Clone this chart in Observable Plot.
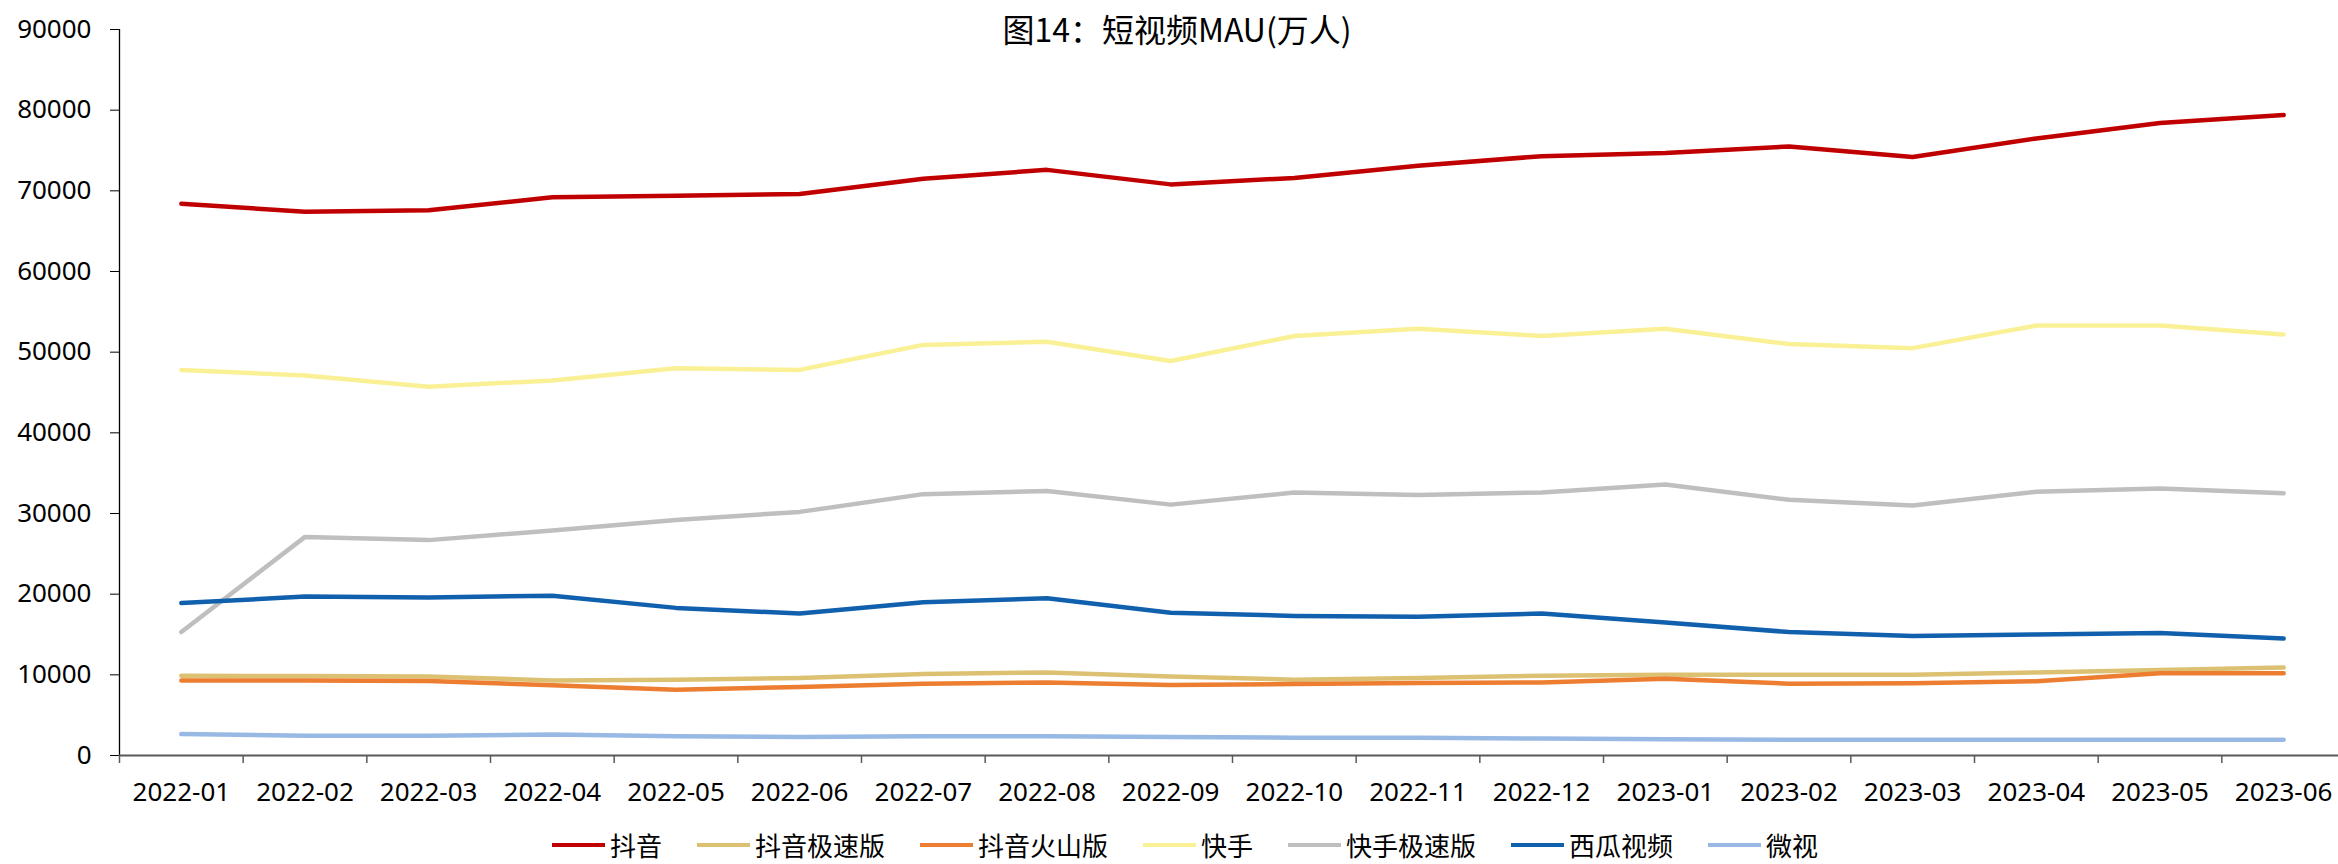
<!DOCTYPE html>
<html><head><meta charset="utf-8">
<script src="https://cdn.jsdelivr.net/npm/d3@7"></script>
<script src="https://cdn.jsdelivr.net/npm/@observablehq/plot@0.6"></script>
<style>
body{margin:0;background:#fff;}
#wrap{position:relative;width:2338px;height:864px;overflow:hidden;}
#title{position:absolute;top:12px;left:0;width:2338px;text-align:center;font-size:32px;line-height:32px;padding-left:16px;box-sizing:border-box;font-family:"Noto Sans CJK SC",sans-serif;color:#000;}
#legend{position:absolute;top:831px;left:552px;height:28px;display:flex;align-items:center;font-size:26px;line-height:28px;font-family:"Noto Sans CJK SC",sans-serif;color:#000;}
.item{display:flex;align-items:center;margin-right:35px;}
.sw{display:inline-block;width:53px;height:4px;margin-right:5px;}
</style></head>
<body>
<div id="wrap"><div id="chart"></div><div id="title">图14：短视频MAU(万人)</div><div id="legend"></div></div>
<script>
const months = ["2022-01","2022-02","2022-03","2022-04","2022-05","2022-06","2022-07","2022-08","2022-09","2022-10","2022-11","2022-12","2023-01","2023-02","2023-03","2023-04","2023-05","2023-06"];
const yTicks = [0,10000,20000,30000,40000,50000,60000,70000,80000,90000];

const douyin      = [68400,67400,67600,69200,69400,69600,71500,72600,70800,71600,73100,74300,74700,75500,74200,76500,78400,79400];
const douyinJisu  = [9900,9850,9800,9300,9400,9600,10100,10300,9800,9400,9600,9900,10000,10000,10000,10300,10600,10900];
const douyinHuoshan = [9300,9300,9250,8700,8150,8500,8900,9050,8750,8850,9000,9050,9500,8900,8950,9200,10200,10200];
const kuaishou    = [47800,47100,45700,46500,48000,47800,50900,51300,48900,52000,52900,52000,52900,51000,50500,53300,53300,52200];
const kuaishouJisu = [15300,27100,26700,27900,29200,30200,32400,32800,31100,32600,32300,32600,33600,31700,31000,32700,33100,32500];
const xigua       = [18900,19700,19600,19800,18300,17600,19000,19500,17700,17300,17200,17600,16500,15300,14800,15000,15200,14500];
const weishi      = [2650,2450,2450,2600,2400,2300,2400,2400,2300,2200,2200,2100,2000,1950,1950,1950,1950,1950];

const seriesNames  = ["抖音","抖音极速版","抖音火山版","快手","快手极速版","西瓜视频","微视"];
const seriesValues = [douyin, douyinJisu, douyinHuoshan, kuaishou, kuaishouJisu, xigua, weishi];
const seriesColors = ["#C00000","#DDC173","#ED7D31","#FAF096","#BFBFBF","#1160AE","#97B9E4"];

const rows = [];
seriesNames.forEach((s, k) => seriesValues[k].forEach((v, i) => rows.push({series: s, idx: i + 0.5, month: months[i], value: v})));

const font = '"Noto Sans","Noto Sans CJK SC",sans-serif';
const chart = Plot.plot({
  width: 2338, height: 830,
  marginLeft: 119, marginRight: 0, marginTop: 29, marginBottom: 75,
  x: {domain: [0, months.length], range: [119, 2345], label: null},
  y: {domain: [0, 90000], label: null},
  color: {domain: seriesNames, range: seriesColors},
  style: {fontFamily: font, fontSize: "26px", color: "#000", background: "#fff", overflow: "visible"},
  marks: [
    Plot.axisY({ticks: yTicks, tickSize: 9, tickPadding: 19, tickFormat: d => String(d), stroke: "#000", label: null}),
    Plot.ruleX([0], {stroke: "#000", strokeWidth: 1.3}),
    Plot.axisX({ticks: d3.range(months.length + 1), tickSize: 8, tickFormat: () => "", stroke: "#595959", strokeWidth: 1.5, label: null}),
    Plot.axisX({ticks: months.map((m, i) => i + 0.5), tickSize: 0, tickPadding: 27, tickFormat: d => months[Math.floor(d)], label: null}),
    Plot.ruleY([0], {stroke: "#595959", strokeWidth: 2}),
    Plot.line(rows, {x: "idx", y: "value", z: "series", stroke: "series", strokeWidth: 4.5, strokeLinejoin: "round", strokeLinecap: "round"})
  ]
});
document.getElementById("chart").appendChild(chart);

const legend = document.getElementById("legend");
seriesNames.forEach((s, k) => {
  const it = document.createElement("div"); it.className = "item";
  const sw = document.createElement("span"); sw.className = "sw"; sw.style.background = seriesColors[k];
  const tx = document.createElement("span"); tx.textContent = s;
  it.appendChild(sw); it.appendChild(tx); legend.appendChild(it);
});
</script>
</body></html>
